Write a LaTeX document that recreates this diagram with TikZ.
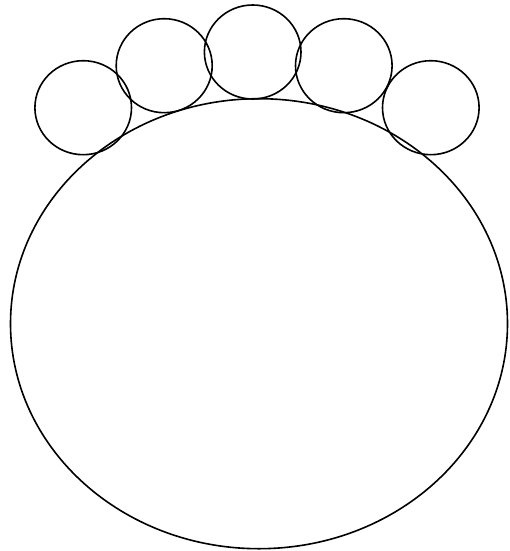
\documentclass[tikz,border=0pt]{standalone}
\begin{document}
\begin{tikzpicture}[x=1pt,y=-1pt,
  shapeline/.style={draw=black,line width=1.6pt}]
\useasboundingbox (0,0) rectangle (509,551);
\draw[shapeline] (259,323.7) ellipse [x radius=248.5, y radius=225];
\draw[shapeline] (83.2,107.7) ellipse [x radius=48.3, y radius=47];
\draw[shapeline] (164.2,65.7) ellipse [x radius=48, y radius=47];
\draw[shapeline] (252.7,52) ellipse [x radius=48.3, y radius=47];
\draw[shapeline] (343.8,65.7) ellipse [x radius=48.3, y radius=47];
\draw[shapeline] (430.8,107.7) ellipse [x radius=48.3, y radius=47];
\end{tikzpicture}
\end{document}
